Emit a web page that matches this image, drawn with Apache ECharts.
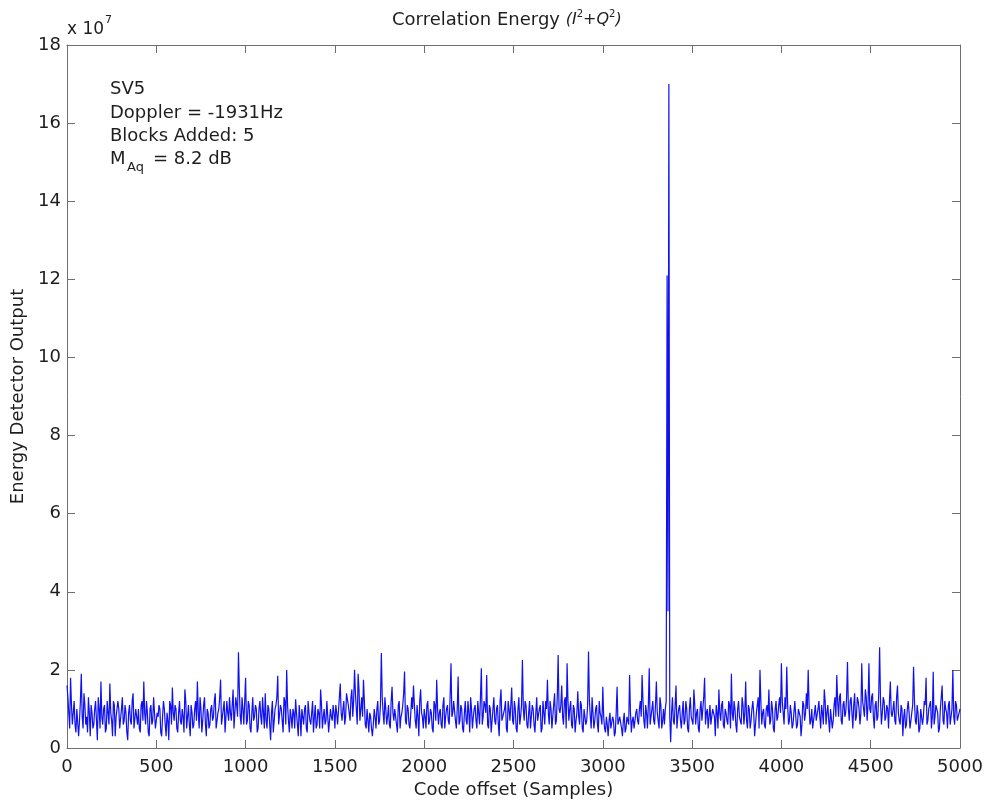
<!DOCTYPE html>
<html>
<head>
<meta charset="utf-8">
<script src="https://cdn.jsdelivr.net/npm/echarts@6/dist/echarts.min.js"></script>
<style>
html, body { margin: 0; background: #fff; }
#main { width: 987px; height: 804px; }
</style>
</head>
<body>
<div id="main"></div>
<script>
// correlation energy (units of 1e7)
// energy: samples at 0, 10, 20 ... 5000
var energy = [
  1.6, 0.9, 1.8, 0.6, 1.2, 0.4, 1.0, 0.7, 1.9, 0.5, 1.1, 0.8, 1.3, 0.3, 0.9, 0.6, 1.2, 0.2, 1.0, 1.7,
  0.6, 1.1, 0.5, 0.9, 1.65, 0.7, 1.2, 0.3, 0.8, 1.0, 0.5, 1.3, 0.7, 0.9, 0.2, 1.1, 0.6, 1.4, 0.5, 0.8,
  1.0, 0.4, 1.2, 1.7, 0.6, 0.9, 0.3, 1.1, 0.7, 1.3, 0.5, 0.8, 1.0, 0.3, 1.2, 0.6, 0.9, 0.2, 1.1, 1.55,
  0.7, 1.0, 0.4, 1.2, 0.6, 0.8, 1.5, 0.5, 1.1, 0.3, 0.9, 0.6, 1.2, 1.7, 0.5, 1.0, 0.7, 1.3, 0.3, 0.9,
  0.6, 1.1, 0.8, 1.4, 0.5, 1.0, 1.75, 0.6, 1.2, 0.4, 0.9, 1.3, 0.7, 1.5, 0.5, 1.1, 2.45, 0.8, 1.3, 0.6,
  1.8, 0.7, 1.1, 0.4, 1.3, 0.8, 1.0, 0.5, 1.2, 0.6, 0.9, 1.4, 0.5, 1.0, 0.2, 1.2, 0.7, 1.1, 1.85, 0.6,
  1.0, 0.4, 1.2, 2.0, 0.7, 1.0, 0.5, 0.9, 1.25, 0.6, 1.1, 0.3, 0.8, 1.0, 0.5, 1.2, 0.7, 0.9, 0.4, 1.1,
  0.6, 0.9, 1.5, 0.5, 1.0, 0.7, 1.2, 0.4, 0.8, 1.1, 0.5, 0.9, 0.6, 1.65, 0.7, 1.2, 0.8, 1.4, 0.9, 1.3,
  0.8, 2.0, 1.0, 1.9, 0.7, 1.3, 1.75, 0.6, 1.0, 0.4, 0.8, 0.3, 1.0, 0.5, 1.2, 0.7, 2.43, 0.9, 1.3, 0.6,
  1.1, 0.5, 1.57, 0.7, 1.0, 0.4, 1.2, 0.8, 1.1, 1.96, 0.6, 1.0, 0.5, 1.3, 1.6, 0.7, 1.1, 0.3, 1.5, 0.8,
  1.0, 0.5, 1.2, 0.7, 0.9, 0.4, 1.1, 1.75, 0.6, 1.0, 0.5, 1.3, 0.8, 1.1, 0.6, 2.17, 0.9, 1.2, 0.5, 1.83,
  0.7, 1.0, 0.4, 1.2, 0.6, 0.9, 1.3, 0.5, 1.0, 0.7, 1.2, 0.6, 2.04, 0.8, 1.1, 1.87, 0.5, 1.0, 0.7, 1.3,
  0.6, 1.1, 0.3, 1.5, 0.8, 1.0, 0.5, 1.2, 0.7, 1.55, 0.6, 1.0, 0.4, 1.3, 0.8, 2.25, 0.7, 1.1, 0.5, 1.2,
  0.8, 1.0, 0.4, 1.3, 0.7, 1.1, 0.5, 0.9, 1.2, 1.75, 0.6, 1.0, 0.8, 1.4, 0.7, 2.38, 0.9, 1.6, 0.6, 1.3,
  2.17, 0.7, 1.2, 0.5, 1.0, 0.7, 1.45, 0.6, 1.1, 0.4, 1.0, 0.7, 2.47, 0.8, 1.3, 0.5, 1.0, 0.6, 1.2, 0.8,
  1.57, 0.5, 0.8, 0.3, 0.9, 0.5, 0.7, 0.4, 1.57, 0.6, 0.8, 0.3, 0.9, 0.5, 0.7, 1.87, 0.4, 0.8, 0.5, 1.0,
  0.6, 1.2, 1.87, 0.7, 1.1, 0.5, 2.04, 0.8, 1.2, 0.6, 1.7, 0.7, 1.3, 0.5, 1.0, 1.0, 12.1, 17.0, 0.15, 1.3,
  0.6, 1.6, 0.8, 1.1, 0.5, 1.2, 0.7, 1.0, 0.4, 1.3, 0.8, 1.5, 0.6, 1.0, 0.4, 1.2, 0.7, 1.8, 0.9, 0.5,
  1.1, 0.6, 1.0, 0.3, 0.9, 1.5, 0.7, 1.2, 0.5, 0.9, 0.6, 1.1, 1.9, 0.7, 1.0, 0.4, 1.2, 0.8, 1.3, 0.6,
  1.7, 0.5, 1.0, 0.7, 1.2, 0.3, 0.9, 1.3, 2.0, 0.6, 1.0, 0.5, 1.1, 1.5, 0.7, 1.0, 0.4, 1.2, 0.8, 1.3,
  2.17, 0.9, 1.3, 2.08, 0.6, 1.1, 0.5, 0.9, 1.2, 0.6, 1.0, 0.3, 1.2, 0.7, 1.4, 2.0, 0.6, 1.0, 0.5, 1.1,
  0.7, 1.2, 0.5, 0.9, 1.5, 0.6, 1.1, 0.4, 1.0, 0.7, 1.3, 1.87, 0.8, 1.4, 0.6, 1.2, 0.9, 2.2, 0.7, 1.3,
  0.5, 1.4, 0.8, 1.2, 0.6, 2.17, 1.0, 1.5, 0.7, 2.17, 0.9, 1.4, 0.5, 1.2, 0.8, 2.58, 0.6, 1.3, 0.7, 1.1,
  0.5, 1.7, 0.8, 1.2, 0.6, 1.6, 0.7, 1.1, 0.3, 1.0, 0.6, 1.2, 0.5, 0.9, 2.08, 0.7, 1.1, 0.4, 1.0, 0.6,
  1.2, 1.8, 0.7, 1.0, 0.5, 1.95, 0.8, 1.1, 0.4, 1.0, 1.6, 0.6, 1.0, 0.5, 1.2, 0.8, 2.0, 0.6, 1.1, 0.7,
  1.0
];
// energyMid: samples at 5, 15, 25 ... 4995
var energyMid = [
  1.3, 0.5, 1.1, 0.9, 0.6, 1.0, 0.3, 1.2, 0.8, 1.4, 0.6, 0.4, 0.9, 1.1, 0.5, 1.0, 0.7, 1.3, 0.5, 0.8,
  1.0, 0.4, 1.2, 0.6, 0.9, 0.3, 1.1, 0.8, 1.2, 0.5, 1.0, 0.6, 1.1, 0.4, 0.9, 0.7, 1.2, 0.5, 1.0, 0.6,
  0.5, 1.1, 0.7, 0.9, 1.2, 0.4, 1.0, 0.6, 1.3, 0.5, 0.9, 1.1, 0.4, 0.8, 1.0, 0.3, 0.7, 1.2, 0.6, 0.9,
  1.1, 0.5, 0.9, 0.7, 1.0, 0.4, 1.2, 0.8, 0.6, 1.1, 0.5, 1.0, 0.7, 0.9, 1.3, 0.4, 1.1, 0.6, 1.0, 0.5,
  1.0, 0.7, 1.2, 0.5, 0.9, 1.3, 0.6, 1.0, 0.4, 1.2, 0.7, 0.9, 1.1, 0.5, 1.3, 0.8, 1.5, 0.6, 1.0, 1.2,
  0.6, 1.2, 0.5, 0.9, 0.7, 1.1, 0.4, 1.0, 0.8, 1.3, 0.5, 0.7, 1.1, 0.6, 0.9, 0.4, 1.0, 1.3, 0.6, 1.1,
  0.7, 1.3, 0.6, 1.1, 0.4, 0.8, 1.0, 0.5, 0.9, 0.3, 0.8, 1.0, 0.6, 1.1, 0.4, 0.9, 0.6, 1.2, 0.8, 0.5,
  1.0, 0.5, 1.1, 0.8, 0.6, 1.2, 0.4, 1.0, 0.7, 0.9, 1.1, 0.6, 1.3, 0.9, 1.0, 0.6, 1.4, 1.1, 0.7, 1.5,
  1.2, 1.4, 0.6, 1.5, 1.0, 0.8, 1.2, 0.5, 0.7, 0.9, 0.5, 0.6, 0.8, 1.0, 0.6, 1.1, 1.3, 0.6, 1.0, 0.8,
  0.6, 1.2, 0.9, 1.0, 0.6, 1.1, 0.5, 0.9, 1.4, 0.7, 1.1, 0.6, 0.9, 1.0, 1.1, 0.5, 0.8, 1.2, 0.9, 0.5,
  0.8, 1.1, 0.6, 1.0, 0.5, 1.2, 0.7, 1.0, 0.9, 0.6, 1.1, 0.5, 1.0, 0.7, 1.3, 0.8, 1.2, 0.7, 1.0, 0.6,
  1.1, 0.5, 0.9, 0.7, 1.2, 0.4, 1.0, 0.8, 1.1, 0.5, 0.9, 1.3, 0.6, 1.2, 0.9, 0.6, 1.1, 0.4, 1.0, 0.7,
  1.0, 0.6, 1.2, 0.7, 0.9, 1.2, 0.4, 1.0, 1.1, 0.7, 1.2, 0.5, 1.0, 0.6, 1.1, 1.0, 1.2, 0.6, 0.9, 0.5,
  1.1, 0.6, 0.9, 0.7, 1.0, 0.4, 1.2, 0.6, 1.0, 0.9, 1.2, 0.5, 1.1, 0.6, 1.3, 1.0, 1.1, 0.8, 1.2, 0.5,
  1.2, 1.0, 0.6, 1.1, 0.4, 0.9, 0.8, 1.2, 0.5, 1.0, 0.6, 1.1, 1.2, 0.5, 0.9, 0.7, 1.1, 0.4, 0.9, 0.6,
  0.8, 0.4, 0.6, 0.7, 0.5, 0.8, 0.3, 0.9, 0.6, 0.8, 0.5, 0.7, 0.4, 0.8, 0.6, 0.9, 0.7, 0.5, 0.9, 0.7,
  1.0, 0.8, 1.2, 0.5, 0.9, 1.1, 0.6, 1.0, 0.7, 1.1, 0.9, 0.5, 1.1, 0.7, 0.6, 1.2, 3.5, 0.8, 0.9, 0.7,
  1.1, 0.5, 1.0, 0.7, 0.9, 0.6, 1.2, 0.5, 1.0, 0.8, 0.6, 1.1, 0.9, 0.5, 1.0, 0.7, 1.3, 0.6, 1.0, 0.8,
  0.6, 1.0, 0.8, 1.1, 0.5, 0.9, 1.1, 0.6, 1.0, 0.7, 1.2, 0.5, 0.9, 1.2, 0.6, 1.0, 0.8, 0.6, 1.1, 0.9,
  0.7, 1.1, 0.5, 1.0, 0.9, 0.6, 1.1, 0.5, 1.2, 0.9, 0.6, 1.0, 0.8, 0.6, 1.2, 0.5, 1.0, 0.7, 1.1, 0.9,
  1.2, 0.6, 1.0, 1.1, 0.7, 0.9, 0.6, 1.2, 0.5, 1.0, 0.8, 0.6, 1.1, 0.9, 1.0, 1.1, 0.7, 0.5, 0.9, 0.7,
  1.0, 0.8, 1.1, 0.6, 1.2, 0.9, 0.7, 1.0, 0.5, 1.1, 0.8, 1.2, 1.3, 0.7, 1.1, 0.8, 1.3, 1.0, 1.2, 0.9,
  1.1, 0.7, 1.3, 1.0, 0.9, 1.2, 0.8, 1.3, 1.1, 1.0, 1.3, 0.8, 1.1, 0.7, 1.4, 1.2, 0.9, 1.2, 0.8, 1.0,
  1.2, 0.9, 1.0, 0.7, 1.3, 0.9, 0.6, 1.0, 0.8, 0.5, 1.0, 0.9, 0.7, 1.1, 1.2, 0.6, 0.9, 0.5, 1.0, 0.8,
  1.1, 0.6, 1.0, 1.2, 0.8, 0.6, 1.1, 0.9, 0.5, 1.0, 0.7, 1.2, 0.9, 1.1, 0.6, 1.0, 0.8, 1.2, 0.7, 0.9
];
var step = 10;
var xTicks = [0, 5000, 500];   // min, max, interval
var yTicks = [0, 18, 2];

var points = [];
energy.forEach(function (v, i) {
  points.push([i * step, v]);
  if (i < energyMid.length) points.push([i * step + step / 2, energyMid[i]]);
});

var font = 'DejaVu Sans';
var ink = '#1e1e1e';
var axisCol = '#6e6e6e';

var myChart = echarts.init(document.getElementById('main'));

function boxAxis(pos, isX) {
  var t = isX ? xTicks : yTicks;
  return {
    type: 'value',
    position: pos,
    min: t[0], max: t[1], interval: t[2],
    axisLine: { show: true, onZero: false, lineStyle: { color: axisCol, width: 1 } },
    axisTick: { show: true, inside: true, length: 8, lineStyle: { color: axisCol } },
    axisLabel: { show: false },
    splitLine: { show: false }
  };
}

var option = {
  backgroundColor: '#fff',
  animation: false,
  grid: { left: 67, right: 27, top: 45, bottom: 56 },
  xAxis: [{
    type: 'value',
    min: xTicks[0], max: xTicks[1], interval: xTicks[2],
    name: 'Code offset (Samples)',
    nameLocation: 'middle',
    nameGap: 33,
    nameTextStyle: { fontFamily: font, fontSize: 18, color: ink },
    axisLine: { show: true, onZero: false, lineStyle: { color: axisCol, width: 1 } },
    axisTick: { show: true, inside: true, length: 8, lineStyle: { color: axisCol } },
    axisLabel: { fontFamily: font, fontSize: 18, color: ink, margin: 10,
                 formatter: function (v) { return String(v); } },
    splitLine: { show: false }
  }, boxAxis('top', true)],
  yAxis: [{
    type: 'value',
    min: yTicks[0], max: yTicks[1], interval: yTicks[2],
    name: 'Energy Detector Output',
    nameLocation: 'middle',
    nameGap: 33,
    nameRotate: 90,
    nameTextStyle: { fontFamily: font, fontSize: 18, color: ink },
    axisLine: { show: true, onZero: false, lineStyle: { color: axisCol, width: 1 } },
    axisTick: { show: true, inside: true, length: 8, lineStyle: { color: axisCol } },
    axisLabel: { fontFamily: font, fontSize: 18, color: ink, margin: 6 },
    splitLine: { show: false }
  }, boxAxis('right', false)],
  series: [{
    type: 'line',
    data: points,
    showSymbol: false,
    sampling: false,
    lineStyle: { color: '#1010f0', width: 1.2 }
  }],
  graphic: [
    {
      type: 'text', left: 392, top: 9,
      style: {
        text: '{a|Correlation Energy }{b|(I}{c|2}{b|+Q}{c|2}{b|)}',
        fill: ink,
        rich: {
          a: { fontFamily: font, fontSize: 18, lineHeight: 22, fill: ink },
          b: { fontFamily: font, fontSize: 16, fontStyle: 'italic', fill: ink, lineHeight: 20 },
          c: { fontFamily: font, fontSize: 10, fill: ink, verticalAlign: 'top', lineHeight: 16 }
        }
      }
    },
    { type: 'text', left: 67, top: 21, style: { text: 'x 10', fontFamily: font, fontSize: 17, fill: ink } },
    { type: 'text', left: 105, top: 15, style: { text: '7', fontFamily: font, fontSize: 11, fill: ink } },
    { type: 'text', left: 110, top: 80, style: { text: 'SV5', fontFamily: font, fontSize: 18, fill: ink } },
    { type: 'text', left: 110, top: 104, style: { text: 'Doppler = -1931Hz', fontFamily: font, fontSize: 18, fill: ink } },
    { type: 'text', left: 110, top: 127, style: { text: 'Blocks Added: 5', fontFamily: font, fontSize: 18, fill: ink } },
    { type: 'text', left: 110, top: 150, style: { text: 'M', fontFamily: font, fontSize: 18, fill: ink } },
    { type: 'text', left: 127, top: 161, style: { text: 'Aq', fontFamily: font, fontSize: 13, fill: ink } },
    { type: 'text', left: 153, top: 150, style: { text: '= 8.2 dB', fontFamily: font, fontSize: 18, fill: ink } }
  ]
};

myChart.setOption(option);
</script>
</body>
</html>
